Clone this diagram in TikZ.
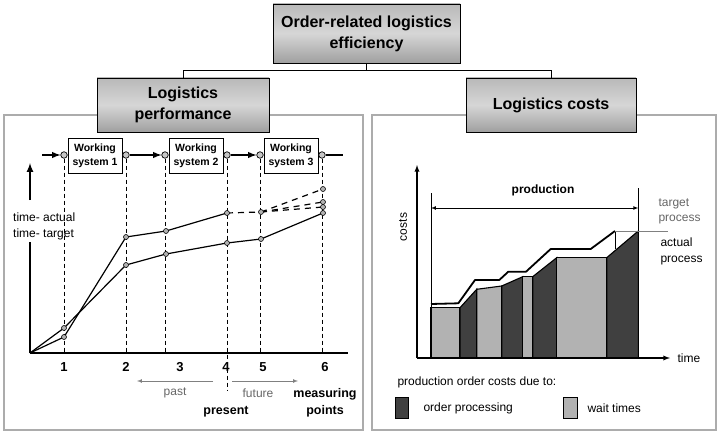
\documentclass[tikz,border=0pt]{standalone}
\usepackage{fontspec}
\setmainfont{Liberation Sans}
\usepackage{tikz}

\begin{document}
\begin{tikzpicture}[x=1pt,y=-1pt,
  head/.style={draw,line width=0.9pt,top color=gray!55,bottom color=gray!75,middle color=gray!32,
    align=center,inner sep=0pt,font=\bfseries\fontsize{16}{21}\selectfont},
  panel/.style={draw=gray!65,line width=1.4pt},
  ws/.style={draw,line width=1pt,fill=white,align=center,minimum width=54pt,minimum height=34pt,
    inner sep=0pt,font=\bfseries\fontsize{10.5}{13.5}\selectfont},
  port/.style={circle,draw,line width=0.7pt,fill=gray!45,inner sep=0pt,minimum size=6.5pt},
  flow/.style={line width=1.8pt},
  guide/.style={line width=0.9pt,dash pattern=on 4pt off 3pt},
  series/.style={line width=1.2pt},
  forecast/.style={line width=1.2pt,dash pattern=on 6pt off 5pt},
  dot/.style={circle,draw,line width=0.6pt,fill=gray!60,inner sep=0pt,minimum size=5pt},
  num/.style={font=\bfseries\fontsize{13}{15}\selectfont},
  lbl/.style={font=\fontsize{12}{16}\selectfont},
  greylbl/.style={font=\fontsize{12}{15}\selectfont,text=black!60},
  wait/.style={draw,line width=1.1pt,fill=black!30},
  proc/.style={draw,line width=1.1pt,fill=black!75}]
 \useasboundingbox (0,0) rectangle (720,433);

 % panels
 \draw[panel] (4,115) rectangle (363,430);
 \draw[panel] (372,115) rectangle (716,430);

 % hierarchy
 \node[head,minimum width=187pt,minimum height=59pt] (top) at (366.5,33.5)
  {Order-related logistics\\efficiency};
 \node[head,minimum width=172pt,minimum height=54pt] (perf) at (183,105)
  {Logistics\\performance};
 \node[head,minimum width=170pt,minimum height=54pt] (cost) at (551,105)
  {Logistics costs};
 \draw[line width=1pt] (top.south) -- ++(0,7) -| (perf.north);
 \draw[line width=1pt] (top.south) -- ++(0,7) -| (cost.north);

 % ---- logistics performance ----
 \node[ws] (ws1) at (95,156) {Working\\system 1};
 \node[ws] (ws2) at (196,156) {Working\\system 2};
 \node[ws] (ws3) at (291,156) {Working\\system 3};
 \coordinate (in) at (42,155);
 \coordinate (out) at (343,155);
 \node[port] (p1) at (64,155) {};
 \node[port] (p2) at (126,155) {};
 \node[port] (p3) at (165,155) {};
 \node[port] (p4) at (227,155) {};
 \node[port] (p5) at (260,155) {};
 \node[port] (p6) at (322,155) {};
 \draw[flow,-latex] (in) -- (p1);
 \draw[flow,-latex] (p2) -- (p3);
 \draw[flow,-latex] (p4) -- (p5);
 \draw[flow] (p6) -- (out);

 \coordinate (o) at (30,353);
 \coordinate (xend) at (348,353);
 \coordinate (cut) at (227,391);
 \foreach \p in {p1,p2,p3,p5,p6}
  \draw[guide] (\p) -- (\p |- o);
 \draw[guide] (p4) -- (cut);

 \node[lbl,anchor=west,align=left,inner sep=2pt] (ylab) at (11,226) {time- actual\\time- target};
 \draw[line width=2pt] (o) -- (ylab.south -| o);
 \draw[line width=2pt,-latex] ([yshift=10pt]ylab.north -| o) -- (30,163);
 \draw[line width=2pt] (o) -- (xend);

 \node[num] (n1) at (64,367) {1};
 \node[num] (n2) at (126,367) {2};
 \node[num] (n3) at (180,367) {3};
 \node[num] (n4) at (226,367) {4};
 \node[num] (n5) at (263,367) {5};
 \node[num] (n6) at (325,367) {6};

 % target and actual lead times
 \coordinate (a1) at (64,337);
 \coordinate (a2) at (126,237);
 \coordinate (a3) at (166,231);
 \coordinate (a4) at (227,213);
 \coordinate (a5) at (261,212);
 \coordinate (f1) at (323,189);
 \coordinate (f2) at (323,202);
 \coordinate (f3) at (323,207);
 \coordinate (t1) at (64,328);
 \coordinate (t2) at (126,265);
 \coordinate (t3) at (166,254);
 \coordinate (t4) at (227,243);
 \coordinate (t5) at (261,239);
 \coordinate (t6) at (323,213);
 \draw[series] (o) -- (a1) -- (a2) -- (a3) -- (a4);
 \draw[series] (o) -- (t1) -- (t2) -- (t3) -- (t4) -- (t5) -- (t6);
 \draw[forecast] (a4) -- (a5);
 \foreach \f in {f1,f2,f3}
  \draw[forecast] (a5) -- (\f);
 \foreach \m in {a1,a2,a3,a4,a5,f1,f2,f3,t1,t2,t3,t4,t5,t6}
  \node[dot] (d-\m) at (\m) {};

 \node[greylbl] (past) at (175,393) {past};
 \node[greylbl] (future) at (258,393) {future};
 \draw[gray,line width=0.7pt,-latex] (213,381) -- (137,381);
 \draw[gray,line width=0.7pt,-latex] (232,381) -- (298,381);
 \node[font=\bfseries\fontsize{12.5}{15}\selectfont] (present) at (226,412) {present};
 \node[font=\bfseries\fontsize{12.5}{17}\selectfont,align=center] (mp) at (325,403) {measuring\\points};

 % ---- logistics costs ----
 \foreach \xa/\ya/\xb/\yb/\kind in {431/307.7/460/307.7/wait, 460/307.7/476.7/289.3/proc,
   476.7/289.3/501.7/286/wait, 501.7/286/522.7/276.7/proc, 522.7/276.7/532.7/276.7/wait,
   532.7/276.7/556.7/257.7/proc, 556.7/257.7/606.7/257.7/wait, 606.7/257.7/638.3/231/proc}
  \draw[\kind] (\xa,358) -- (\xa,\ya) -- (\xb,\yb) -- (\xb,358) -- cycle;

 \coordinate (co) at (417,358);
 \draw[line width=1.3pt,-latex] (co) -- (417,165);
 \draw[line width=1.3pt,-latex] (co) -- (670,358);
 \node[lbl,anchor=west] (time) at (674,358) {time};
 \node[lbl,rotate=90] (costs) at (403,227) {costs};

 \draw[line width=0.8pt] (431,193) -- (431,358);
 \draw[line width=0.8pt] (638.3,188) -- (638.3,231);
 \draw[line width=0.7pt,latex-latex] (431,208) -- (638.3,208);
 \node[font=\bfseries\fontsize{12}{14}\selectfont] (prod) at (543,190) {production};

 % target process line
 \draw[line width=1.8pt,line join=round] (431,304) -- (458.3,303.3) -- (475,280) -- (499.3,280)
  -- (508.3,271.7) -- (526,271.7) -- (550.7,249) -- (590.7,249) -- (615,231);
 \draw[line width=0.8pt] (615,231) -- (615,249);
 \draw[gray,line width=0.9pt] (615,231) -- (668,231);
 \node[greylbl,anchor=west,align=left] (tp) at (655,211) {target\\process};
 \node[lbl,anchor=west,align=left] (ap) at (657,251) {actual\\process};

 % legend
 \node[lbl,anchor=west] (due) at (394,382) {production order costs due to:};
 \draw[proc,line width=0.8pt] (395,397) rectangle (408,418);
 \node[lbl,anchor=west] (lp) at (420,408) {order processing};
 \draw[wait,line width=0.8pt] (563,397) rectangle (577,418);
 \node[lbl,anchor=west] (lw) at (584,408) {wait times};
\end{tikzpicture}
\end{document}
